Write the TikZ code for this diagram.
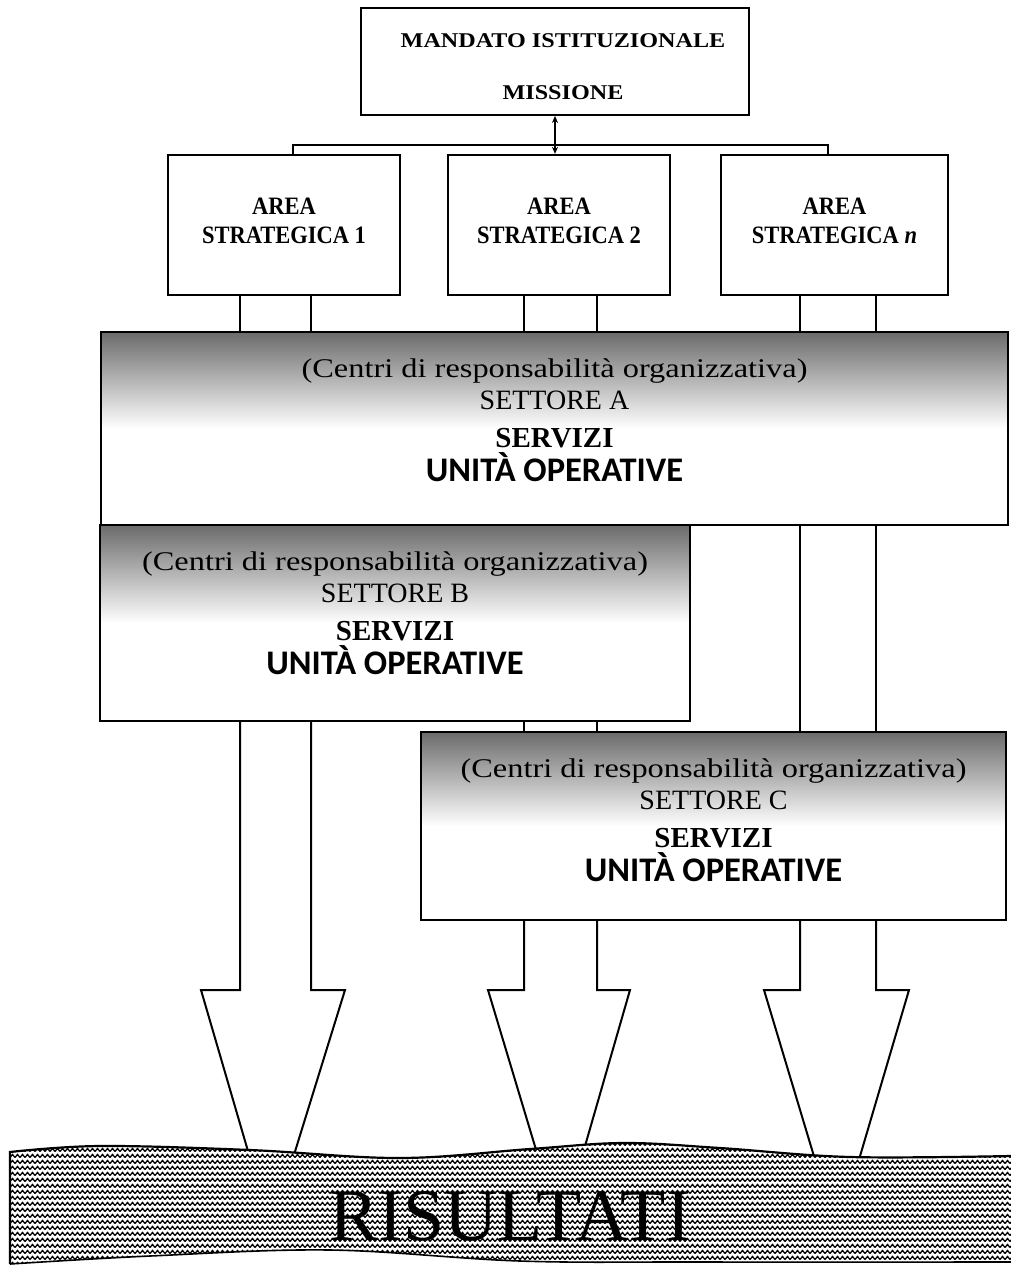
\documentclass[tikz,border=0pt]{standalone}
\usepackage{fontspec}
\setmainfont{Liberation Serif}
\newfontfamily\carl{Carlito}
\usetikzlibrary{arrows.meta,patterns}

\colorlet{sectgrey}{black!58}
\pgfdeclareverticalshading{sectshade}{100bp}{color(0bp)=(white); color(50bp)=(white); color(75bp)=(sectgrey); color(100bp)=(sectgrey)}

\pgfdeclarepatternformonly{zigzagfill}{\pgfqpoint{-1pt}{-1pt}}{\pgfqpoint{6pt}{7pt}}{\pgfqpoint{5pt}{6pt}}{%
  \pgfsetlinewidth{1.3pt}%
  \pgfpathmoveto{\pgfqpoint{0pt}{1.5pt}}%
  \pgfpathlineto{\pgfqpoint{2.5pt}{4.5pt}}%
  \pgfpathlineto{\pgfqpoint{5pt}{1.5pt}}%
  \pgfusepath{stroke}}

\newcommand\settori[2]{%
  \node[s1] (#1c) at ([yshift=-47pt]#1.north) {\scalebox{1.2}[1]{(Centri di responsabilità organizzativa)}};
  \node[s2] (#1s) at ([yshift=-79pt]#1.north) {SETTORE #2};
  \node[s3] (#1v) at ([yshift=-117pt]#1.north) {SERVIZI};
  \node[s4] (#1u) at ([yshift=-151pt]#1.north) {UNITÀ OPERATIVE};
}

\newcommand\fatarrow[8]{%
  \draw[fat] (#2,0 |- #1.south) -- (#2,990) -- (#4,990) -- (#6,#8) -- (#7,#8) -- (#5,990) -- (#3,990) -- (#3,0 |- #1.south);
}

\begin{document}
\begin{tikzpicture}[x=1pt,y=-1pt,
  conn/.style={draw=black,line width=2pt},
  fat/.style={draw=black,line width=2pt,fill=white,line join=miter},
  topbox/.style={draw=black,line width=1.8pt,fill=white,inner sep=0pt},
  areabox/.style={draw=black,line width=2.2pt,fill=white,inner sep=0pt,minimum height=140pt},
  sector/.style={draw=black,line width=2.4pt,shade,shading=sectshade,inner sep=0pt},
  toptxt/.style={font=\bfseries\fontsize{21}{23}\selectfont,anchor=base,inner sep=0pt},
  atxt/.style={font=\bfseries\fontsize{25}{27}\selectfont,anchor=base,inner sep=0pt},
  s1/.style={font=\fontsize{27}{30}\selectfont,anchor=base,inner sep=0pt},
  s2/.style={font=\fontsize{28}{30}\selectfont,anchor=base,inner sep=0pt},
  s3/.style={font=\bfseries\fontsize{29}{31}\selectfont,anchor=base,inner sep=0pt},
  s4/.style={font=\carl\bfseries\fontsize{34.5}{36}\selectfont,anchor=base,inner sep=0pt},
  ristxt/.style={font=\fontsize{74}{76}\selectfont,anchor=base,inner sep=0pt}
]
\useasboundingbox[fill=white] (0,0) rectangle (1011,1267);

% top box
\node[topbox,minimum width=388pt,minimum height=107pt] (top) at (555,61.5) {};
\node[toptxt] (mand) at ([xshift=8pt,yshift=-40pt]top.north) {\scalebox{1.15}[1]{MANDATO ISTITUZIONALE}};
\node[toptxt] (miss) at ([xshift=8pt,yshift=-92pt]top.north) {\scalebox{1.15}[1]{MISSIONE}};

% area boxes
\node[areabox,minimum width=232pt] (a1) at (284,225) {};
\node[areabox,minimum width=222pt] (a2) at (559,225) {};
\node[areabox,minimum width=227pt] (an) at (834.5,225) {};
\node[atxt] (a1t1) at ([yshift=-61pt]a1.north) {\scalebox{0.9}[1]{AREA}};
\node[atxt] (a1t2) at ([yshift=-90pt]a1.north) {\scalebox{0.9}[1]{STRATEGICA 1}};
\node[atxt] (a2t1) at ([yshift=-61pt]a2.north) {\scalebox{0.9}[1]{AREA}};
\node[atxt] (a2t2) at ([yshift=-90pt]a2.north) {\scalebox{0.9}[1]{STRATEGICA 2}};
\node[atxt] (ant1) at ([yshift=-61pt]an.north) {\scalebox{0.9}[1]{AREA}};
\node[atxt] (ant2) at ([yshift=-90pt]an.north) {\scalebox{0.9}[1]{STRATEGICA \textit{n}}};

% connectors top
\coordinate (busL) at (293,145);
\coordinate (busR) at (828,145);
\draw[conn] (busL |- a1.north) -- (busL) -- (busR) -- (busR |- an.north);
\draw[conn,{Stealth[length=7pt,width=6pt]}-{Stealth[length=7pt,width=6pt]}] (top.south) -- (top.south |- a2.north);

% sector boxes
\node[sector,minimum width=907pt,minimum height=193pt] (sA) at (554.5,428.5) {};
\node[sector,minimum width=590pt,minimum height=196pt] (sB) at (395,623) {};
\node[sector,minimum width=585pt,minimum height=188pt] (sC) at (713.5,826) {};
\settori{sA}{A}
\settori{sB}{B}
\settori{sC}{C}

% pipes
\foreach \x in {240,311} \draw[conn] (\x,0 |- a1.south) -- (\x,0 |- sA.north);
\foreach \x in {524,597} \draw[conn] (\x,0 |- a2.south) -- (\x,0 |- sA.north);
\foreach \x in {800,876} \draw[conn] (\x,0 |- an.south) -- (\x,0 |- sA.north);
\foreach \x in {800,876} \draw[conn] (\x,0 |- sA.south) -- (\x,0 |- sC.north);
\foreach \x in {524,597} \draw[conn] (\x,0 |- sB.south) -- (\x,0 |- sC.north);

% fat arrows
\fatarrow{sB}{240}{311}{201}{345}{250}{293}{1158}
\fatarrow{sC}{524}{597}{488}{630}{537}{583}{1153}
\fatarrow{sC}{800}{876}{764}{909}{816}{858}{1163}

% results band
\path[fill=white,postaction={pattern=zigzagfill,pattern color=black}]
  plot[smooth,tension=0.6] coordinates {(10,1152) (100,1146) (250,1150) (400,1158) (530,1149) (624,1143) (720,1148) (850,1157) (1011,1156)}
  -- (1011,1262)
  -- plot[smooth,tension=0.6] coordinates {(1011,1262) (700,1262) (520,1261) (330,1250) (150,1256) (10,1264)}
  -- cycle;
\draw[line width=2.2pt,line join=miter] (10,1264) --
  plot[smooth,tension=0.6] coordinates {(10,1152) (100,1146) (250,1150) (400,1158) (530,1149) (624,1143) (720,1148) (850,1157) (1011,1156)};
\draw[line width=1.6pt]
  plot[smooth,tension=0.6] coordinates {(1011,1262) (700,1262) (520,1261) (330,1250) (150,1256) (10,1264)};
\node[ristxt] (ris) at (510,1240) {RISULTATI};
\end{tikzpicture}
\end{document}
